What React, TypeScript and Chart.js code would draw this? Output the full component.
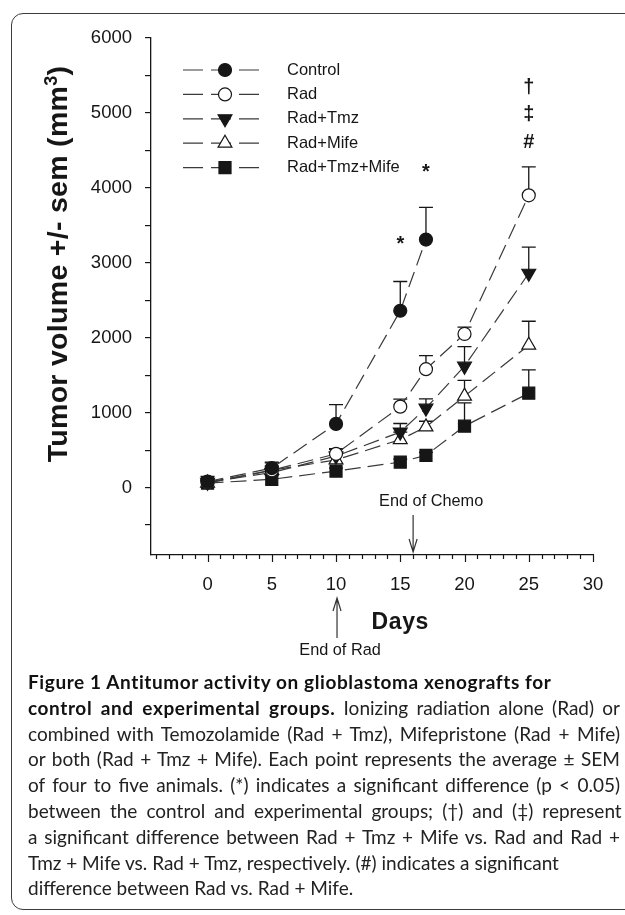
import React, { useEffect, useRef } from "react";
import { Chart, registerables } from "chart.js";
import { drawPoint } from "chart.js/helpers";

Chart.register(...registerables);

// ---------- data ----------
const days = [0, 5, 10, 15, 17, 20, 25];
const seriesNames = ["Control", "Rad", "Rad+Tmz", "Rad+Mife", "Rad+Tmz+Mife"];
const controlMean = [80, 260, 850, 2360, 3310, null, null];
const controlSem = [70, 80, 257, 390, 430, null, null];
const radMean = [70, 230, 450, 1080, 1580, 2050, 3900];
const radSem = [40, 100, 70, 100, 180, 90, 380];
const tmzMean = [70, 200, 420, 740, 1060, 1620, 2860];
const tmzSem = [30, 80, 90, 115, 125, 260, 350];
const mifeMean = [60, 230, 370, 640, 810, 1220, 1900];
const mifeSem = [30, 60, 90, 100, 75, 210, 320];
const rtmMean = [60, 110, 220, 340, 430, 820, 1260];
const rtmSem = [30, 50, 40, 40, 40, 310, 310];

const xTickLabels = ["0", "5", "10", "15", "20", "25", "30"];
const yTickLabels = ["0", "1000", "2000", "3000", "4000", "5000", "6000"];
const yTickValues = [-500, 0, 500, 1000, 1500, 2000, 2500, 3000, 3500, 4000, 4500, 5000, 5500, 6000];
const xTickValues = [-4, -3, -2, -1, 0, 1, 2, 3, 4, 5, 6, 7, 8, 9, 10, 11, 12, 13, 14, 15, 16, 17, 18, 19, 20, 21, 22, 23, 24, 25, 26, 27, 28, 29, 30];

const sigDays = [15, 17, 25, 25, 25];
const sigLevels = [3250, 4200, 4600, 4980, 5340];
const sigMarks = ["*", "*", "#", "\u2021", "\u2020"];

const eventDays = [10, 16];
const eventLabels = ["End of Rad", "End of Chemo"];

const captionLines = [
  "Figure 1 Antitumor activity on glioblastoma xenografts for",
  "Ionizing radiation alone (Rad) or",
  "combined with Temozolamide (Rad + Tmz), Mifepristone (Rad + Mife)",
  "or both (Rad + Tmz + Mife). Each point represents the average \u00b1 SEM",
  "of four to five animals. (*) indicates a significant difference (p < 0.05)",
  "between the control and experimental groups; (\u2020) and (\u2021) represent",
  "a significant difference between Rad + Tmz + Mife vs. Rad and Rad +",
  "Tmz + Mife vs. Rad + Tmz, respectively. (#) indicates a significant",
  "difference between Rad vs. Rad + Mife.",
];
const captionBoldLead = "control and experimental groups.";

// ---------- styles ----------
const ink = "#161616";
const lineInk = "#3a3a3a";
const means = [controlMean, radMean, tmzMean, mifeMean, rtmMean];
const sems = [controlSem, radSem, tmzSem, mifeSem, rtmSem];
const markers = [
  { pointStyle: "circle", rotation: 0, radius: 6.5, fill: ink },
  { pointStyle: "circle", rotation: 0, radius: 6.5, fill: "#ffffff" },
  { pointStyle: "triangle", rotation: 180, radius: 8, fill: ink },
  { pointStyle: "triangle", rotation: 0, radius: 8, fill: "#ffffff" },
  { pointStyle: "rect", rotation: 0, radius: 8.5, fill: ink },
];
const FONT = "'Liberation Sans', Arial, sans-serif";

const overlay = {
  id: "overlay",
  beforeDatasetsDraw(chart: any) {
    const ctx = chart.ctx;
    const xs = chart.scales.x;
    const ys = chart.scales.y;
    ctx.save();
    ctx.strokeStyle = ink;
    ctx.lineWidth = 1.3;
    means.forEach((arr, si) => {
      arr.forEach((m, i) => {
        if (m == null) return;
        const px = xs.getPixelForValue(days[i]);
        const y0 = ys.getPixelForValue(m);
        const y1 = ys.getPixelForValue(m + (sems[si][i] as number));
        ctx.beginPath();
        ctx.moveTo(px, y0);
        ctx.lineTo(px, y1);
        ctx.moveTo(px - 7, y1);
        ctx.lineTo(px + 7, y1);
        ctx.stroke();
      });
    });
    ctx.restore();
  },
  afterDraw(chart: any) {
    const ctx = chart.ctx;
    const xs = chart.scales.x;
    const ys = chart.scales.y;
    const base = xs.top;
    ctx.save();
    // x tick marks (major every 5 days)
    ctx.strokeStyle = ink;
    ctx.lineWidth = 1.2;
    xs.ticks.forEach((t: any) => {
      const px = Math.round(xs.getPixelForValue(t.value)) + 0.5;
      const len = t.value % 5 === 0 ? 7 : 4;
      ctx.beginPath();
      ctx.moveTo(px, base);
      ctx.lineTo(px, base + len);
      ctx.stroke();
    });

    // legend
    ctx.font = `16.5px ${FONT}`;
    ctx.textBaseline = "middle";
    ctx.textAlign = "left";
    seriesNames.forEach((name, i) => {
      const y = 70 + i * 24.4;
      ctx.save();
      ctx.strokeStyle = lineInk;
      ctx.lineWidth = 1.2;
      ctx.setLineDash([20, 8]);
      ctx.beginPath();
      ctx.moveTo(183, y);
      ctx.lineTo(259, y);
      ctx.stroke();
      ctx.restore();
      const mk = markers[i];
      ctx.fillStyle = mk.fill;
      ctx.strokeStyle = ink;
      ctx.lineWidth = 1.2;
      drawPoint(ctx, { pointStyle: mk.pointStyle as any, rotation: mk.rotation, radius: mk.radius, borderWidth: 1.2 } as any, 225, y);
      ctx.fillStyle = ink;
      ctx.fillText(name, 287, y);
    });

    // significance marks
    ctx.font = `bold 20px ${FONT}`;
    ctx.textAlign = "center";
    ctx.fillStyle = ink;
    sigMarks.forEach((m, i) => {
      ctx.fillText(m, xs.getPixelForValue(sigDays[i]), ys.getPixelForValue(sigLevels[i]));
    });

    // event arrows
    ctx.strokeStyle = "#333";
    ctx.lineWidth = 1.2;
    ctx.font = `16.3px ${FONT}`;
    {
      const px = xs.getPixelForValue(eventDays[0]) + 1;
      const tip = base + 43;
      ctx.beginPath();
      ctx.moveTo(px, base + 83);
      ctx.lineTo(px, tip);
      ctx.moveTo(px - 4, tip + 13);
      ctx.lineTo(px, tip);
      ctx.lineTo(px + 4, tip + 13);
      ctx.stroke();
      ctx.textAlign = "center";
      ctx.fillText(eventLabels[0], px + 3, base + 96);
    }
    {
      const px = xs.getPixelForValue(eventDays[1]);
      const tip = base - 3;
      ctx.beginPath();
      ctx.moveTo(px, base - 40);
      ctx.lineTo(px, tip);
      ctx.moveTo(px - 4, tip - 13);
      ctx.lineTo(px, tip);
      ctx.lineTo(px + 4, tip - 13);
      ctx.stroke();
      ctx.textAlign = "left";
      ctx.fillText(eventLabels[1], px - 34, base - 53);
    }

    // x axis title
    ctx.font = `bold 23px ${FONT}`;
    ctx.textAlign = "center";
    (ctx as any).letterSpacing = "0.6px";
    ctx.fillText("Days", xs.getPixelForValue(15), base + 68);
    ctx.restore();
  },
};

export default function App() {
  const ref = useRef<HTMLCanvasElement>(null);
  useEffect(() => {
    const canvas = ref.current;
    if (!canvas) return;
    const datasets = seriesNames.map((name, si) => ({
      label: name,
      data: days
        .map((d, i) => (means[si][i] == null ? null : { x: d, y: means[si][i] as number }))
        .filter((p) => p !== null),
      borderColor: lineInk,
      borderWidth: 1.2,
      borderDash: [16, 7],
      backgroundColor: markers[si].fill,
      pointStyle: markers[si].pointStyle as any,
      rotation: markers[si].rotation,
      pointRadius: markers[si].radius,
      pointBackgroundColor: markers[si].fill,
      pointBorderColor: ink,
      pointBorderWidth: 1.2,
      fill: false,
      tension: 0,
    }));
    const chart = new Chart(canvas, {
      type: "line",
      data: { datasets: datasets as any },
      plugins: [overlay as any],
      options: {
        animation: false,
        responsive: false,
        maintainAspectRatio: false,
        layout: { padding: { left: 0, right: 32, top: 38, bottom: 0 } },
        plugins: { legend: { display: false }, tooltip: { enabled: false } },
        scales: {
          x: {
            type: "linear",
            min: -4.4,
            max: 30,
            afterBuildTicks: (s: any) => {
              s.ticks = xTickValues.map((v) => ({ value: v }));
            },
            afterFit: (s: any) => {
              s.height = 125;
            },
            border: { color: ink, width: 1.3 },
            grid: { display: true, drawOnChartArea: false, drawTicks: false },
            ticks: {
              autoSkip: false,
              maxRotation: 0,
              minRotation: 0,
              padding: 19,
              color: ink,
              font: { family: FONT, size: 18.5 },
              callback: (v: any) => (xTickLabels.includes(String(v)) ? String(v) : ""),
            },
          },
          y: {
            type: "linear",
            min: -900,
            max: 6000,
            afterBuildTicks: (s: any) => {
              s.ticks = yTickValues.map((v) => ({ value: v }));
            },
            afterFit: (s: any) => {
              s.width = 151;
            },
            border: { color: ink, width: 1.3 },
            grid: { drawOnChartArea: false, tickLength: 6, color: ink, lineWidth: 1.2 },
            ticks: {
              autoSkip: false,
              padding: 13,
              color: ink,
              font: { family: FONT, size: 18.5 },
              callback: (v: any) => (yTickLabels.includes(String(v)) ? String(v) : ""),
            },
          },
        },
      } as any,
    });
    return () => chart.destroy();
  }, []);

  const capFont = "Lato, 'Open Sans', sans-serif";
  return (
    <div
      style={{
        position: "absolute",
        left: 0,
        top: 0,
        width: 625,
        height: 915,
        overflow: "hidden",
        background: "#ffffff",
      }}
    >
      <div
        style={{
          position: "absolute",
          left: 11,
          top: 13,
          width: 650,
          height: 897,
          border: "1.5px solid #3c3c3c",
          borderRadius: 12,
          boxSizing: "border-box",
        }}
      />
      <canvas
        ref={ref}
        width={625}
        height={680}
        style={{ position: "absolute", left: 0, top: 0, width: 625, height: 680 }}
      />
      <div
        style={{
          position: "absolute",
          left: 57 - 250,
          top: 264 - 18,
          width: 500,
          height: 36,
          lineHeight: "36px",
          textAlign: "center",
          transform: "rotate(-90deg)",
          fontFamily: FONT,
          fontWeight: "bold",
          fontSize: 28.5,
          letterSpacing: "0.3px",
          color: ink,
          whiteSpace: "nowrap",
        }}
      >
        Tumor volume +/- sem (mm<sup style={{ fontSize: 18, lineHeight: 0 }}>3</sup>)
      </div>
      <div
        style={{
          position: "absolute",
          left: 28,
          top: 669,
          fontFamily: capFont,
          fontSize: 19,
          lineHeight: "25.8px",
          color: "#222",
        }}
      >
        {captionLines.map((line, i) => {
          const justify = i >= 1 && i <= 6 && i !== 5;
          return (
            <div
              key={i}
              style={{
                whiteSpace: "nowrap",
                width: justify ? 592 : undefined,
                textAlign: justify ? "justify" : "left",
                textAlignLast: justify ? ("justify" as any) : ("left" as any),
                wordSpacing: i === 5 ? "4.2px" : undefined,
                fontWeight: i === 0 ? "bold" : "normal",
                letterSpacing: i === 0 ? "0.6px" : undefined,
                color: i === 0 ? "#111" : "#222",
              }}
            >
              {i === 1 ? (
                <>
                  <b style={{ color: "#111", letterSpacing: "0.6px" }}>{captionBoldLead}</b> {line}
                </>
              ) : (
                line
              )}
            </div>
          );
        })}
      </div>
    </div>
  );
}
